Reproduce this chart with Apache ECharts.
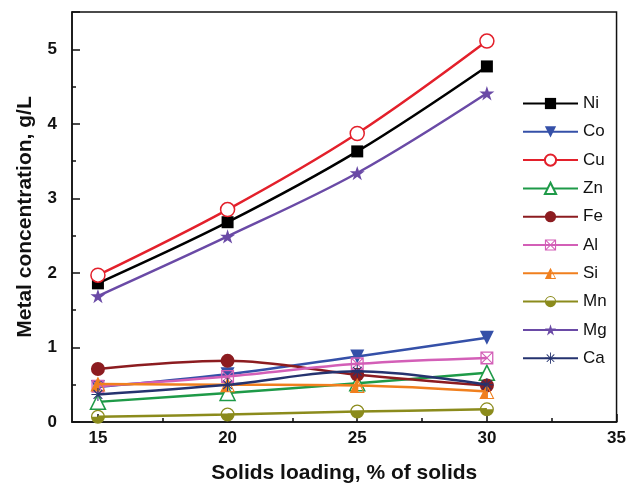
<!DOCTYPE html>
<html>
<head>
<meta charset="utf-8">
<script src="https://cdn.jsdelivr.net/npm/echarts@6/dist/echarts.min.js"></script>
<style>
html,body{margin:0;padding:0;background:#fff;}
#chart{width:629px;height:489px;}
</style>
</head>
<body>
<div id="chart"></div>
<script>
// ---- data ----
var xValues = [15, 20, 25, 30];
var seriesNames = ['Ni', 'Co', 'Cu', 'Zn', 'Fe', 'Al', 'Si', 'Mn', 'Mg', 'Ca'];
var ni = [1.86, 2.68, 3.63, 4.77];
var co = [0.47, 0.64, 0.88, 1.13];
var cu = [1.97, 2.85, 3.87, 5.11];
var zn = [0.27, 0.39, 0.52, 0.66];
var fe = [0.71, 0.82, 0.635, 0.49];
var al = [0.48, 0.61, 0.78, 0.86];
var si = [0.51, 0.50, 0.49, 0.41];
var mn = [0.07, 0.10, 0.14, 0.17];
var mg = [1.69, 2.49, 3.34, 4.41];
var ca = [0.37, 0.50, 0.68, 0.50];
var xMajorTicks = [15, 20, 25, 30, 35];
var xMinorTicks = [17.5, 22.5, 27.5, 32.5];

// ---- symbols ----
var SYM_SI = 'path://M50 0 L0 100 L50 100 Z M50 0 L100 100 L50 100 Z M57 29.6 L57 93 L88.7 93 Z';
var SYM_MN = 'path://M0 50 A50 50 0 0 0 100 50 Z M0 50 A50 50 0 0 1 100 50 L91 50 A41 41 0 0 0 9 50 Z';
var SYM_AL = 'path://M0 0 L100 0 L100 100 L0 100 Z M10 10 L10 90 L90 90 L90 10 Z ' +
  'M10 10 L16 10 L90 84 L90 90 L84 90 L10 16 Z M90 10 L90 16 L16 90 L10 90 L10 84 L84 10 Z';
var SYM_CA = 'path://M46 0 L54 0 L54 100 L46 100 Z M0 46 L0 54 L100 54 L100 46 Z ' +
  'M15 15 L21 15 L85 79 L85 85 L79 85 L15 21 Z M85 15 L85 21 L21 85 L15 85 L15 79 L79 15 Z';
var SYM_MG = 'path://M50 0 L61.2 34.5 L97.6 34.5 L68.2 55.9 L79.4 90.5 L50 69.1 L20.6 90.5 L31.8 55.9 L2.4 34.5 L38.8 34.5 Z';

var dataSets = [ni, co, cu, zn, fe, al, si, mn, mg, ca];
var colors = ['#000000', '#3550a8', '#e3202b', '#1e9a48', '#8c1c20', '#d35fb7', '#f07f1e', '#8b8b1c', '#6a4aa6', '#25336f'];
var symbols = ['rect', 'triangle', 'circle', 'triangle', 'circle', SYM_AL, SYM_SI, SYM_MN, SYM_MG, SYM_CA];
var hollow = [false, false, true, true, false, false, false, false, false, false];
var rotates = [0, 180, 0, 0, 0, 0, 0, 0, 0, 0];
var sizes = [12, 14, 14, 15, 14, 13, 15, 14, 15, 13];

function pairs(arr) {
  return xValues.map(function (x, i) { return [x, arr[i]]; });
}

var series = seriesNames.map(function (name, i) {
  return {
    name: name,
    type: 'line',
    data: pairs(dataSets[i]),
    smooth: 0.35,
    symbol: symbols[i],
    symbolSize: sizes[i],
    symbolRotate: rotates[i],
    symbolKeepAspect: true,
    showAllSymbol: true,
    lineStyle: { color: colors[i], width: 2.5 },
    itemStyle: hollow[i]
      ? { color: '#ffffff', borderColor: colors[i], borderWidth: 1.5, opacity: 1 }
      : { color: colors[i], borderWidth: 0, opacity: 1 },
    emphasis: { disabled: true },
    z: 2 + i
  };
});

var FONT = 'Liberation Sans, Arial, sans-serif';
var chart = echarts.init(document.getElementById('chart'), null, { renderer: 'canvas' });
chart.setOption({
  animation: false,
  backgroundColor: '#ffffff',
  textStyle: { fontFamily: FONT },
  grid: { left: 72, right: 8, top: 12, bottom: 61, show: true, borderColor: '#111', borderWidth: 1.5, containLabel: false },
  legend: {
    orient: 'vertical',
    left: 522,
    top: 95,
    padding: 0,
    itemWidth: 55,
    itemHeight: 14,
    itemGap: 11.3,
    data: seriesNames,
    textStyle: { fontSize: 17, color: '#111', fontFamily: FONT, padding: [0, 0, 0, 0] }
  },
  xAxis: [{
    type: 'value',
    min: 14,
    max: 35,
    position: 'bottom',
    name: 'Solids loading, % of solids',
    nameLocation: 'middle',
    nameGap: 41,
    nameTextStyle: { fontSize: 21, fontWeight: 'bold', color: '#111', fontFamily: FONT },
    axisLine: { show: true, lineStyle: { color: '#111', width: 1.5 } },
    axisTick: { show: true, inside: true, length: 8, customValues: xMajorTicks, lineStyle: { color: '#111', width: 1.5 } },
    axisLabel: { show: true, customValues: xMajorTicks, margin: 8, fontSize: 17, fontWeight: 'bold', color: '#111' },
    splitLine: { show: false }
  }, {
    type: 'value',
    min: 14,
    max: 35,
    position: 'bottom',
    axisLine: { show: false },
    axisTick: { show: true, inside: true, length: 4, customValues: xMinorTicks, lineStyle: { color: '#111', width: 1.5 } },
    axisLabel: { show: false },
    splitLine: { show: false }
  }],
  yAxis: {
    type: 'value',
    min: 0,
    max: 5.5,
    interval: 1,
    name: 'Metal concentration, g/L',
    nameLocation: 'middle',
    nameGap: 36,
    nameTextStyle: { fontSize: 21, fontWeight: 'bold', color: '#111', fontFamily: FONT },
    axisLine: { show: true, lineStyle: { color: '#111', width: 1.5 } },
    axisTick: { show: true, inside: true, length: 8, lineStyle: { color: '#111', width: 1.5 } },
    minorTick: { show: true, splitNumber: 2, length: 4, lineStyle: { color: '#111', width: 1.5 } },
    axisLabel: { margin: 15, fontSize: 17, fontWeight: 'bold', color: '#111', showMaxLabel: false },
    splitLine: { show: false }
  },
  series: series
});
</script>
</body>
</html>
